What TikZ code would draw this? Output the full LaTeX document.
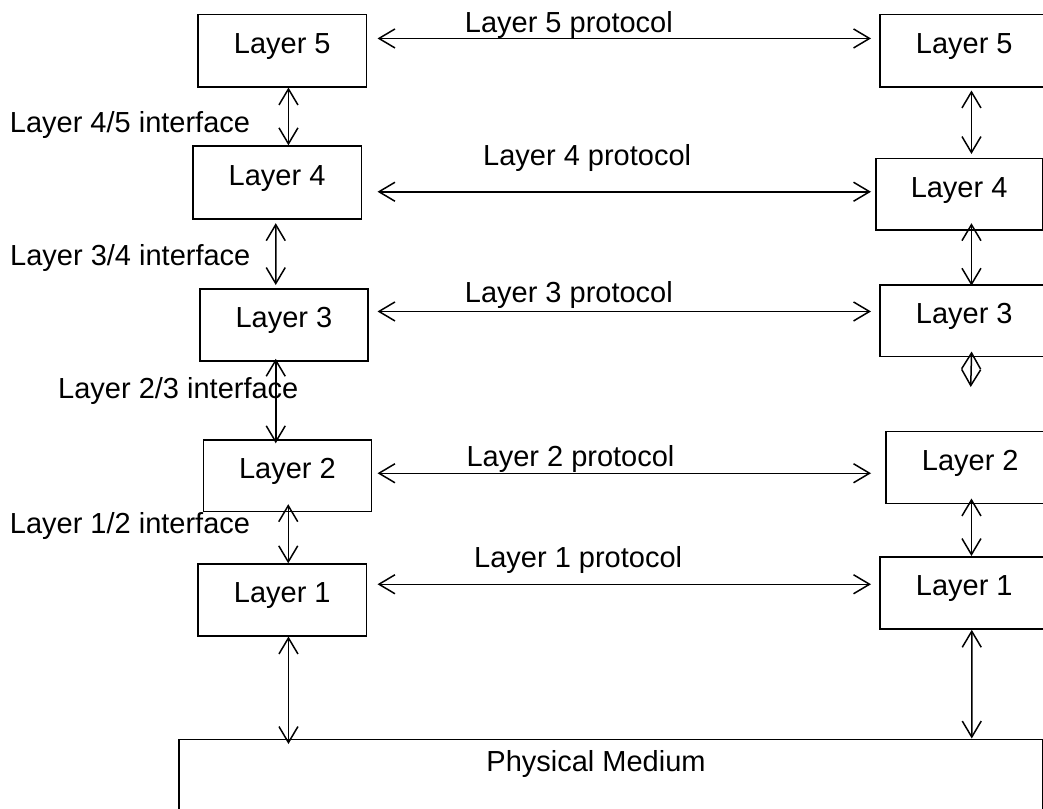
\documentclass[tikz,border=0pt]{standalone}
\usepackage{fontspec}
\setmainfont{Liberation Sans}
\usetikzlibrary{arrows.meta}
\begin{document}
\begin{tikzpicture}[x=1pt,y=-1pt,
  every node/.style={font=\fontsize{29}{34}\selectfont},
  lbox/.style={draw, line width=1.5pt, rectangle, anchor=north west, inner sep=0pt,
     text height=20.8pt, text depth=14.8pt},
  lab/.style={anchor=base west, inner sep=0pt},
  dar/.style={line width=1.5pt, {Straight Barb[length=16pt,width=19pt,line width=1.5pt]}-{Straight Barb[length=16pt,width=19pt,line width=1.5pt]}}
]
\path[use as bounding box] (0,0) rectangle (1043,808);
\clip (0,0) rectangle (1043,808);
\fill[white] (0,0) rectangle (1043,808);

% left stack
\node[lbox, minimum width=168.4pt, minimum height=72pt] (L5) at (197.3,14) {Layer 5};
\node[lbox, minimum width=168.7pt, minimum height=73pt] (L4) at (192,145.3) {Layer 4};
\node[lbox, minimum width=168.3pt, minimum height=71.7pt] (L3) at (199,288.3) {Layer 3};
\node[lbox, minimum width=168pt, minimum height=71.7pt] (L2) at (202.7,439) {Layer 2};
\node[lbox, minimum width=168.4pt, minimum height=71.7pt] (L1) at (197.3,563.3) {Layer 1};
% right stack
\node[lbox, minimum width=168.4pt, minimum height=72pt] (R5) at (879.3,14) {Layer 5};
\node[lbox, minimum width=166.7pt, minimum height=71.3pt] (R4) at (875,157.7) {Layer 4};
\node[lbox, minimum width=168.4pt, minimum height=71.7pt] (R3) at (879.3,284) {Layer 3};
\node[lbox, minimum width=168.4pt, minimum height=71.8pt] (R2) at (885.3,430.7) {Layer 2};
\node[lbox, minimum width=168.4pt, minimum height=72.3pt] (R1) at (879.3,556) {Layer 1};
% physical medium
\node[draw, line width=1.5pt, rectangle, anchor=north west, inner sep=0pt,
      minimum width=863.7pt, minimum height=100pt] (PM) at (178,738.5) {};
\node[anchor=base, inner sep=0pt] (PMt) at (596,771) {Physical Medium};

% interface labels
\node[lab] (i45) at (9.7,132.3) {Layer 4/5 interface};
\node[lab] (i34) at (10,265) {Layer 3/4 interface};
\node[lab] (i23) at (58,398.3) {Layer 2/3 interface};
\node[lab] (i12) at (9.7,533.3) {Layer 1/2 interface};
% protocol labels
\node[lab] (p5) at (464.7,32.3) {Layer 5 protocol};
\node[lab] (p4) at (483,165.7) {Layer 4 protocol};
\node[lab] (p3) at (464.7,302.3) {Layer 3 protocol};
\node[lab] (p2) at (466.3,466.7) {Layer 2 protocol};
\node[lab] (p1) at (474,567.7) {Layer 1 protocol};

% horizontal protocol arrows
\coordinate (h5) at ([yshift=12.3pt]L5.east);
\coordinate (h4) at ([yshift=-9.2pt]L4.east);
\coordinate (h3) at ([yshift=13.45pt]L3.east);
\coordinate (h2) at ([yshift=2.35pt]L2.east);
\coordinate (h1) at ([yshift=15.65pt]L1.east);
\draw[dar, shorten <=10.3pt, shorten >=8.3pt] (h5) -- (h5 -| R5.west);
\draw[dar, shorten <=15.3pt, shorten >=4pt] (h4) -- (h4 -| R4.west);
\draw[dar, shorten <=8.7pt, shorten >=8.3pt] (h3) -- (h3 -| R3.west);
\draw[dar, shorten <=5.3pt, shorten >=14.3pt] (h2) -- (h2 -| R2.west);
\draw[dar, shorten <=10.3pt, shorten >=8.3pt] (h1) -- (h1 -| R1.west);

% left vertical interface arrows
\draw[dar] ([xshift=6.2pt]L5.south) -- ([xshift=11.35pt]L4.north);
\draw[dar, shorten <=3.4pt, shorten >=3.3pt] ([xshift=-1.35pt]L4.south) -- ([xshift=-8.15pt]L3.north);
\draw[dar, shorten <=-2.7pt, shorten >=-4.3pt] ([xshift=-8.15pt]L3.south) -- ([xshift=-11.7pt]L2.north);
\draw[dar, shorten <=-8pt] ([xshift=0.8pt]L2.south) -- ([xshift=6pt]L1.north);
\draw[dar, shorten >=-5.5pt] ([xshift=6.2pt]L1.south) -- ([xshift=-322.15pt]PM.north);

% right vertical arrows
\draw[dar, shorten <=3pt, shorten >=3.7pt] ([xshift=7.2pt]R5.south) -- ([xshift=12.35pt]R4.north);
\draw[dar, shorten <=-7.3pt, shorten >=-1.7pt] ([xshift=12.35pt]R4.south) -- ([xshift=7.2pt]R3.north);
\coordinate (r3end) at (970.7,387);
\draw[dar, shorten <=-5.7pt] ([xshift=7.2pt]R3.south) -- (r3end);
\draw[dar, shorten <=-5.5pt] ([xshift=1.2pt]R2.south) -- ([xshift=7.2pt]R1.north);
\draw[dar] ([xshift=7.5pt]R1.south) -- ([xshift=361.15pt]PM.north);
\end{tikzpicture}
\end{document}
